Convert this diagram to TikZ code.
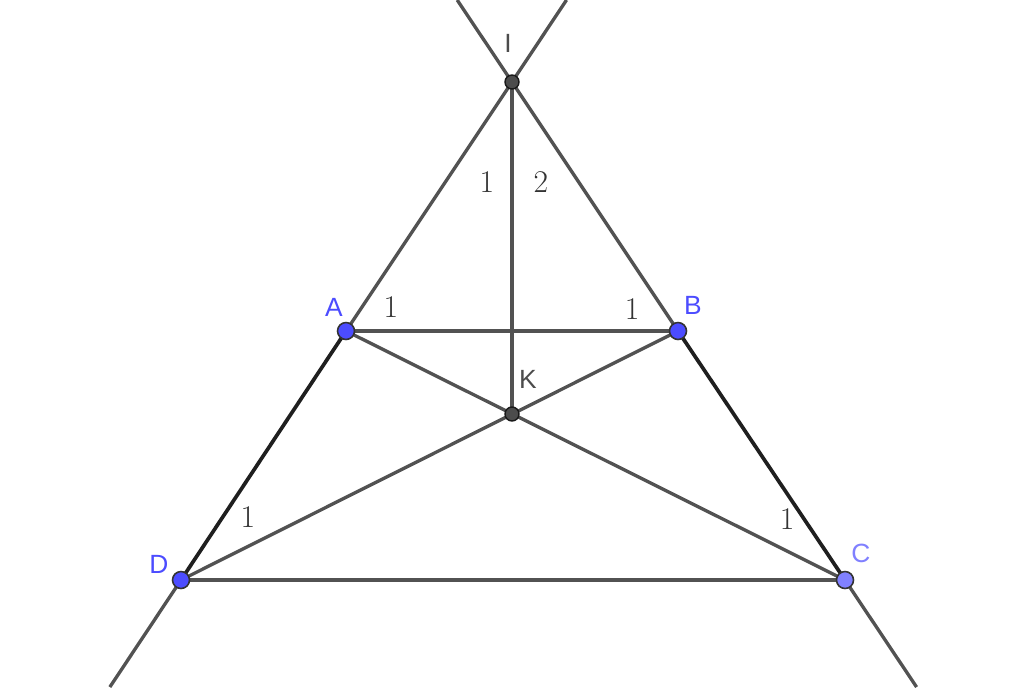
\documentclass[tikz,border=0pt]{standalone}
\usepackage{fontspec}
\usetikzlibrary{calc}
\newfontfamily\ptfont{Liberation Sans}
\begin{document}
\begin{tikzpicture}[x=0.02cm,y=-0.02cm,
  gline/.style={draw=black!68,line width=1.9pt},
  bline/.style={draw=black!88,line width=2.1pt},
  bpt/.style={circle,fill=blue!70,draw=black!80,line width=0.9pt,inner sep=0pt,minimum size=0.34cm},
  lbpt/.style={circle,fill=blue!50,draw=black!80,line width=0.9pt,inner sep=0pt,minimum size=0.34cm},
  dpt/.style={circle,fill=black!70,draw=black!90,line width=0.8pt,inner sep=0pt,minimum size=0.28cm},
  plab/.style={font=\ptfont\fontsize{15}{17}\selectfont,text=blue!70,inner sep=0pt},
  glab/.style={font=\ptfont\fontsize{15}{17}\selectfont,text=black!70,inner sep=0pt},
  alab/.style={font=\fontsize{18}{20}\selectfont,text=black!80,inner sep=0pt}]
\useasboundingbox (0,0) rectangle (1024,687);
\coordinate (I) at (512,82);
\coordinate (A) at (346,331);
\coordinate (B) at (678,331);
\coordinate (K) at (512,414);
\coordinate (D) at (181,580);
\coordinate (C) at (845,580);
\coordinate (T1) at ($(I)!-0.1647!(D)$);
\coordinate (T2) at ($(I)!-0.1647!(C)$);
\coordinate (B1) at ($(I)!1.2149!(D)$);
\coordinate (B2) at ($(I)!1.2149!(C)$);
\draw[gline] (T1) -- (I) -- (A);
\draw[gline] (T2) -- (I) -- (B);
\draw[gline] (D) -- (B1);
\draw[gline] (C) -- (B2);
\draw[bline] (A) -- (D);
\draw[bline] (B) -- (C);
\draw[gline] (A) -- (B);
\draw[gline] (D) -- (C);
\draw[gline] (A) -- (C);
\draw[gline] (B) -- (D);
\draw[gline] (I) -- (K);
\node[bpt] (nA) at (A) {};
\node[bpt] (nB) at (B) {};
\node[lbpt] (nC) at (C) {};
\node[bpt] (nD) at (D) {};
\node[dpt] (nI) at (I) {};
\node[dpt] (nK) at (K) {};
\node[glab] (lI) at (508,43) {I};
\node[plab] (lA) at (334,307) {A};
\node[plab] (lB) at (693,305) {B};
\node[glab] (lK) at (528,379) {K};
\node[plab] (lD) at (159,564) {D};
\node[plab,text=blue!50] (lC) at (861,553) {C};
\node[alab] (a1) at (487,182) {1};
\node[alab] (a2) at (541,182) {2};
\node[alab] (a3) at (391,307) {1};
\node[alab] (a4) at (632,309) {1};
\node[alab] (a5) at (248,517) {1};
\node[alab] (a6) at (787,519) {1};
\end{tikzpicture}
\end{document}
